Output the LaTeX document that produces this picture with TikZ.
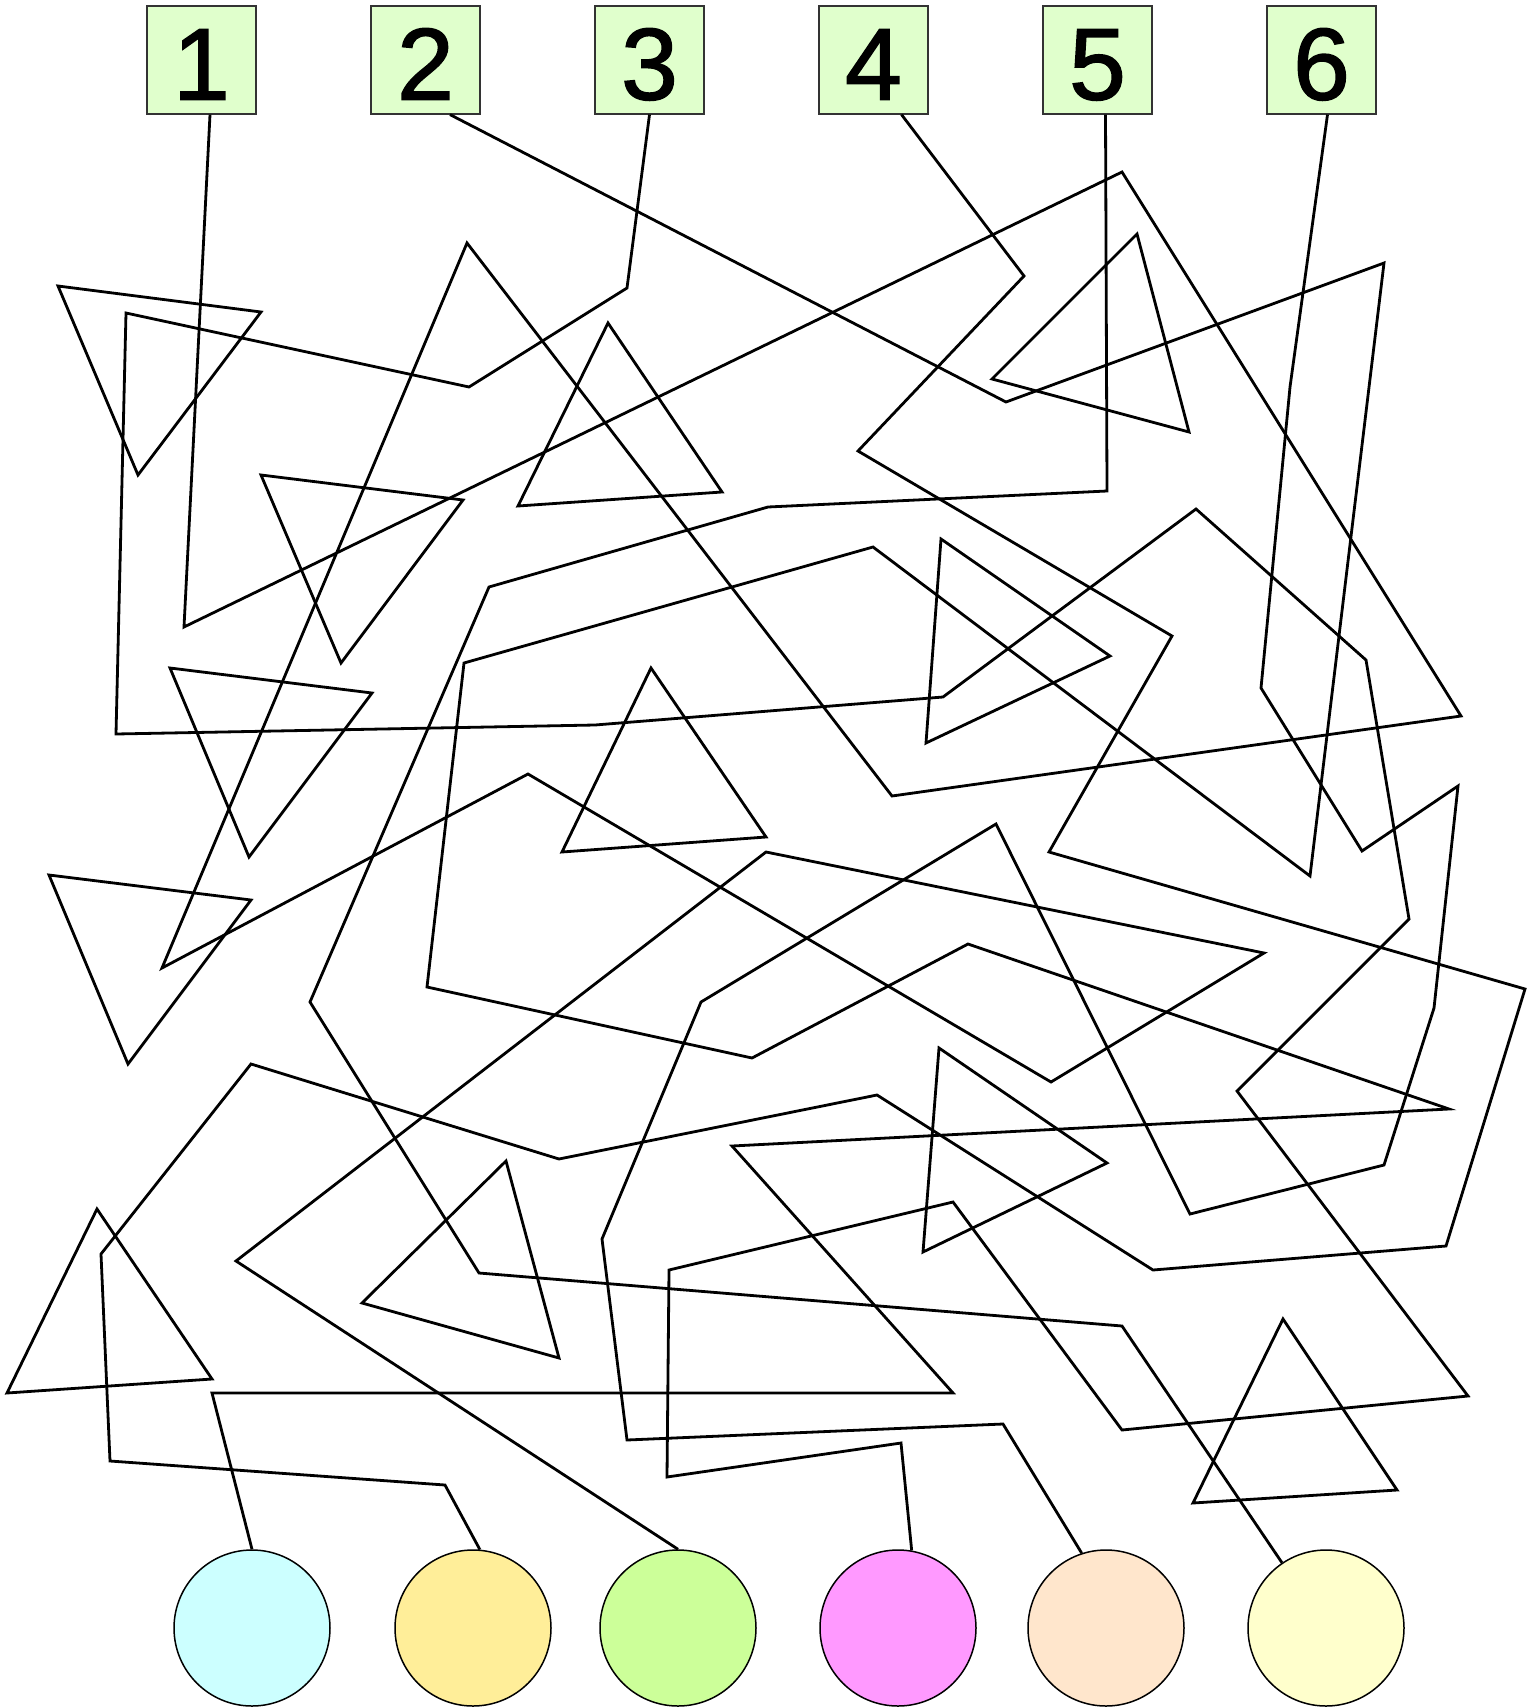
\documentclass[tikz,border=0pt]{standalone}
\usepackage{fontspec}
\setmainfont{Liberation Sans}
\newfontfamily\tilefont{Liberation Sans}[FakeBold=1.5]
\usetikzlibrary{positioning}
\definecolor{tilegreen}{HTML}{E0FFCC}
\definecolor{potcyan}{HTML}{CCFFFF}
\definecolor{potgold}{HTML}{FFEE99}
\definecolor{potlime}{HTML}{CCFF99}
\definecolor{potpink}{HTML}{FF99FF}
\definecolor{potpeach}{HTML}{FFE6CC}
\definecolor{potcream}{HTML}{FFFFCC}

\begin{document}
\begin{tikzpicture}[x=1pt,y=-1pt,node distance=113.8pt,
  num/.style={draw=black!80,line width=1.2pt,fill=tilegreen,minimum width=109pt,
    minimum height=108pt,inner sep=0pt,text height=79pt,text depth=0pt,
    font=\tilefont\fontsize{102}{102}\selectfont},
  disc/.style={circle,draw,line width=1.5pt,fill=#1,minimum size=156pt,inner sep=0pt},
  disc/.default=white,
  wire/.style={line width=2.8pt}]
\useasboundingbox (0,0) rectangle (1529,1707);
% numbered tiles on top
\node[num] (b1) at (201.5,60) {1};
\node[num,right=of b1] (b2) {2};
\node[num,right=of b2] (b3) {3};
\node[num,right=of b3] (b4) {4};
\node[num,right=of b4] (b5) {5};
\node[num,right=of b5] (b6) {6};
% coloured pots at the bottom
\node[disc=potcyan] (c1) at (252,1628) {};
\node[disc=potgold] (c2) at (473,1628) {};
\node[disc=potlime] (c3) at (678,1628) {};
\node[disc=potpink] (c4) at (898,1628) {};
\node[disc=potpeach] (c5) at (1106,1628) {};
\node[disc=potcream] (c6) at (1326,1628) {};
% loose triangles
\draw[wire] (58,286) -- (261,312) -- (138,475) -- cycle;
\draw[wire] (261,475) -- (463,500) -- (341,663) -- cycle;
\draw[wire] (170,668) -- (372,693) -- (249,857) -- cycle;
\draw[wire] (49,875) -- (251,900) -- (128,1064) -- cycle;
\draw[wire] (608,323) -- (722,492) -- (518,506) -- cycle;
\draw[wire] (651,668) -- (766,837) -- (562,852) -- cycle;
\draw[wire] (1137,234) -- (1189,432) -- (992,379) -- cycle;
\draw[wire] (941,539) -- (1110,656) -- (926,743) -- cycle;
\draw[wire] (939,1048) -- (1107,1163) -- (923,1252) -- cycle;
\draw[wire] (97,1209) -- (212,1379) -- (7,1393) -- cycle;
\draw[wire] (506,1161) -- (559,1358) -- (362,1303) -- cycle;
\draw[wire] (1283,1319) -- (1397,1490) -- (1193,1503) -- cycle;
% the six tangled paths
\draw[wire] ([xshift=8.5pt]b1.south) -- (184,627) -- (1122,172) -- (1461,716)
  -- (892,796) -- (467,243) -- (162,968) -- (528,774) -- (1051,1082)
  -- (1264,953) -- (766,852) -- (236,1261) -- (c3.north);
\draw[wire] ([xshift=24.5pt]b2.south) -- (1006,402) -- (1384,263) -- (1310,876)
  -- (873,547) -- (464,663) -- (427,987) -- (752,1058) -- (968,944)
  -- (1449,1109) -- (732,1146) -- (953,1393) -- (212,1393) -- (c1.north);
\draw[wire] (b3.south) -- (627,288) -- (469,387) -- (126,313) -- (116,734)
  -- (595,725) -- (943,697) -- (1196,509) -- (1366,660) -- (1409,919)
  -- (1237,1091) -- (1468,1396) -- (1122,1430) -- (953,1202) -- (669,1270)
  -- (667,1477) -- (901,1443) -- (c4.80);
\draw[wire] ([xshift=28pt]b4.south) -- (1024,276) -- (858,451) -- (1172,636)
  -- (1049,852) -- (1525,989) -- (1446,1246) -- (1153,1270) -- (877,1095)
  -- (559,1159) -- (251,1064) -- (101,1254) -- (110,1461) -- (445,1485)
  -- (c2.85);
\draw[wire] ([xshift=8pt]b5.south) -- (1107,491) -- (768,507) -- (489,587)
  -- (310,1002) -- (479,1273) -- (1122,1326) -- (c6.124);
\draw[wire] ([xshift=6pt]b6.south) -- (1290,387) -- (1261,688) -- (1362,851)
  -- (1458,786) -- (1434,1008) -- (1384,1165) -- (1190,1214) -- (996,824)
  -- (701,1002) -- (602,1239) -- (627,1440) -- (1003,1424) -- (c5.108);
\end{tikzpicture}
\end{document}
